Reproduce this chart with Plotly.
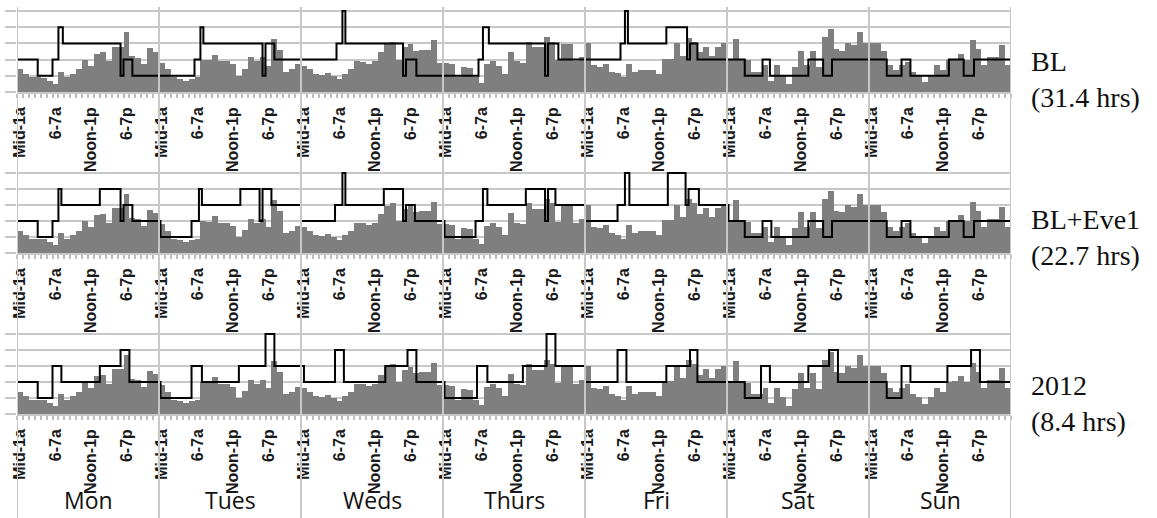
import plotly.graph_objects as go

W, H = 1157, 518

days = ["Mon", "Tues", "Weds", "Thurs", "Fri", "Sat", "Sun"]
hour_labels = ["Mid-1a", "6-7a", "Noon-1p", "6-7p"]
label_hours = [0, 6, 12, 18]
panel_names = ["BL<br>(31.4 hrs)", "BL+Eve1<br>(22.7 hrs)", "2012<br>(8.4 hrs)"]

# hourly bar values (same in all panels)
mon = [1.4, 1.1, 0.9, 0.9, 0.85, 0.7, 0.5, 1.25, 0.9, 1.1, 1.4, 2.0, 1.6, 2.35, 2.45, 1.9, 2.8, 2.8, 3.7, 2.2, 2.1, 1.7, 2.7, 2.5]
tue = [1.8, 1.4, 0.9, 0.8, 0.7, 0.8, 0.9, 2.0, 1.95, 2.3, 1.9, 1.9, 1.7, 1.0, 1.45, 2.15, 1.9, 2.15, 1.6, 3.3, 2.6, 1.25, 1.4, 1.7]
wed = [1.6, 1.4, 1.1, 1.05, 1.2, 1.0, 0.8, 1.1, 1.4, 1.9, 1.85, 1.75, 1.9, 2.45, 2.95, 3.1, 2.0, 2.75, 2.95, 2.55, 2.6, 2.6, 3.2, 1.8]
thu = [1.8, 1.75, 0.9, 1.55, 1.5, 0.9, 0.55, 1.7, 1.9, 1.6, 1.1, 2.5, 1.9, 1.8, 3.1, 2.75, 2.75, 3.4, 3.1, 1.95, 2.95, 2.95, 1.9, 2.15]
fri = [3.0, 1.65, 1.55, 1.75, 1.25, 1.15, 0.9, 1.75, 1.25, 1.35, 1.35, 1.35, 1.1, 2.05, 2.05, 3.0, 2.25, 3.35, 3.1, 2.45, 2.8, 2.25, 2.8, 3.0]
sat = [2.0, 3.3, 2.0, 1.95, 1.25, 1.25, 1.65, 0.7, 1.65, 1.05, 0.5, 1.55, 2.55, 1.65, 2.55, 1.55, 3.4, 3.9, 2.65, 2.55, 3.0, 2.9, 3.7, 3.0]
sun = [3.0, 3.0, 2.55, 1.65, 1.35, 1.65, 1.85, 1.25, 1.05, 0.6, 1.05, 1.65, 1.35, 2.0, 2.05, 2.35, 2.0, 3.2, 2.65, 1.65, 2.15, 2.15, 2.9, 1.65]
demand = mon + tue + wed + thu + fri + sat + sun

# step lines: change times (hours since Mon 00:00) and levels
bl_t = [0, 3.5, 6, 7, 7.75, 17.5, 18, 19.5,
        30, 31, 31.5, 41.5, 42, 43.5,
        54, 55, 55.5, 65.25, 65.75, 67.5,
        78, 78.75, 79.75, 89.25, 89.75, 91.5,
        102, 102.75, 103.25, 109.75, 113.25, 113.75, 115,
        123, 126, 127.25, 133.75, 136.25, 137.75,
        147, 149.5, 151, 157.5, 160, 161.75, 168]
bl_v = [2, 1, 2, 4, 3, 1, 2, 1,
        2, 4, 3, 1, 3, 2,
        3, 5, 3, 1, 2, 1,
        2, 4, 3, 1, 3, 2,
        3, 5, 3, 4, 2, 3, 2,
        1, 2, 1, 2, 1, 2,
        1, 2, 1, 2, 1, 2, 2]

eve_t = [0, 3.5, 6, 7, 7.5, 14, 17.5, 18, 19.5,
         24.25, 29.5, 30.75, 31.25, 37.75, 41, 41.5, 43,
         48, 53.75, 55, 55.5, 62, 65.25, 65.75, 67.25,
         72.25, 77.5, 78.75, 79.5, 86, 89.25, 89.75, 91,
         96, 101.5, 102.75, 103.5, 110, 113, 113.5, 115.25,
         120.25, 123, 126, 127.5, 133.75, 136.25, 137.75,
         147, 149.5, 151, 157.5, 160, 161.75, 168]
eve_v = [2, 1, 2, 4, 3, 4, 2, 3, 2,
         1, 2, 4, 3, 4, 2, 4, 3,
         2, 3, 5, 3, 4, 2, 3, 2,
         1, 2, 4, 3, 4, 2, 4, 3,
         2, 3, 5, 3, 5, 3, 4, 3,
         2, 1, 2, 1, 2, 1, 2,
         1, 2, 1, 2, 1, 2, 2]

y12_t = [0, 3.5, 6, 7.5, 14, 17.5, 19,
         24.25, 29.5, 31.25, 37.5, 42, 43.5,
         48.5, 53.75, 55.25, 62.25, 66, 67.5,
         72.25, 77.75, 79.5, 85.5, 89.5, 91,
         96, 101.5, 103, 109.75, 113.75, 115,
         123, 125.75, 127.25, 133.75, 137.25, 138.75,
         147, 149.5, 151, 157.25, 161.25, 162.75, 168]
y12_v = [2, 1, 3, 2, 3, 4, 2,
         1, 3, 2, 3, 5, 3,
         2, 4, 2, 3, 4, 2,
         1, 3, 2, 3, 5, 3,
         2, 4, 2, 3, 4, 2,
         1, 3, 2, 3, 4, 2,
         1, 3, 2, 3, 4, 2, 2]

steps = [(bl_t, bl_v), (eve_t, eve_v), (y12_t, y12_v)]

GRID = "#c8c8c8"
BAR = "#7f7f7f"
# panel pixel geometry: (bottom px, top px)
panels_px = [(92, 7), (253, 169), (414, 330)]
YMAX = 5.25

fig = go.Figure()
hours_x = [h + 0.5 for h in range(168)]
tickvals = [d * 24 + h + 0.5 for d in range(7) for h in label_hours]
ticktext = [lab for d in range(7) for lab in hour_labels]

for i, (st_t, st_v) in enumerate(steps):
    sfx = "" if i == 0 else str(i + 1)
    fig.add_trace(go.Bar(x=hours_x, y=demand, width=1, marker=dict(color=BAR, line=dict(width=0)),
                         xaxis="x" + sfx, yaxis="y" + sfx, showlegend=False, hoverinfo="skip"))
    fig.add_trace(go.Scatter(x=st_t, y=st_v, mode="lines", line=dict(color="black", width=2, shape="hv"),
                             xaxis="x" + sfx, yaxis="y" + sfx, showlegend=False, hoverinfo="skip"))
    bot, top = panels_px[i]
    dom = [1 - bot / H, 1 - top / H]
    fig.layout["xaxis" + sfx] = dict(
        domain=[0, 1], range=[0, 168], anchor="y" + sfx,
        tickmode="array", tickvals=tickvals, ticktext=ticktext, tickangle=-90,
        ticks="outside", ticklen=7, tickcolor="rgba(0,0,0,0)",
        tickfont=dict(family="Liberation Sans Narrow, Arial Narrow, Liberation Sans, sans-serif",
                      size=16, color="#1a1a1a", weight="bold"),
        showgrid=False, zeroline=False, showline=True, linecolor=GRID, linewidth=1.5,
        minor=dict(ticks="outside", ticklen=4, tickwidth=1.5, tickcolor="#bdbdbd",
                   tickmode="linear", tick0=0, dtick=1, showgrid=False),
    )
    fig.layout["yaxis" + sfx] = dict(
        domain=dom, range=[0, YMAX], anchor="x" + sfx,
        tickmode="array", tickvals=[0, 1, 2, 3, 4, 5], showticklabels=False,
        ticks="outside", ticklen=11, tickcolor=GRID, tickwidth=1.5,
        showgrid=True, gridcolor=GRID, gridwidth=1.5, zeroline=False, showline=False,
    )

shapes = []
for d in range(8):
    shapes.append(dict(type="line", xref="x", yref="paper", x0=d * 24, x1=d * 24,
                       y0=0, y1=1 - 7 / H, line=dict(color=GRID, width=2), layer="above"))

annotations = []
for d, name in enumerate(days):
    annotations.append(dict(text=name, xref="x3", yref="paper", x=d * 24 + 12, y=0,
                            showarrow=False, xanchor="center", yanchor="bottom", yshift=0,
                            font=dict(family="Open Sans, Noto Sans, sans-serif", size=23, color="#111")))
label_centers = [79, 237, 403]
for name, cy in zip(panel_names, label_centers):
    annotations.append(dict(text=name, xref="paper", yref="paper", x=1, xshift=18, y=1 - cy / H,
                            showarrow=False, xanchor="left", yanchor="middle", align="left",
                            font=dict(family="Liberation Serif, Times New Roman, serif", size=28, color="#111")))

fig.update_layout(
    width=W, height=H, margin=dict(l=17, r=146, t=0, b=0),
    paper_bgcolor="white", plot_bgcolor="white",
    bargap=0, shapes=shapes, annotations=annotations, showlegend=False,
)

fig.write_html("out.html")
